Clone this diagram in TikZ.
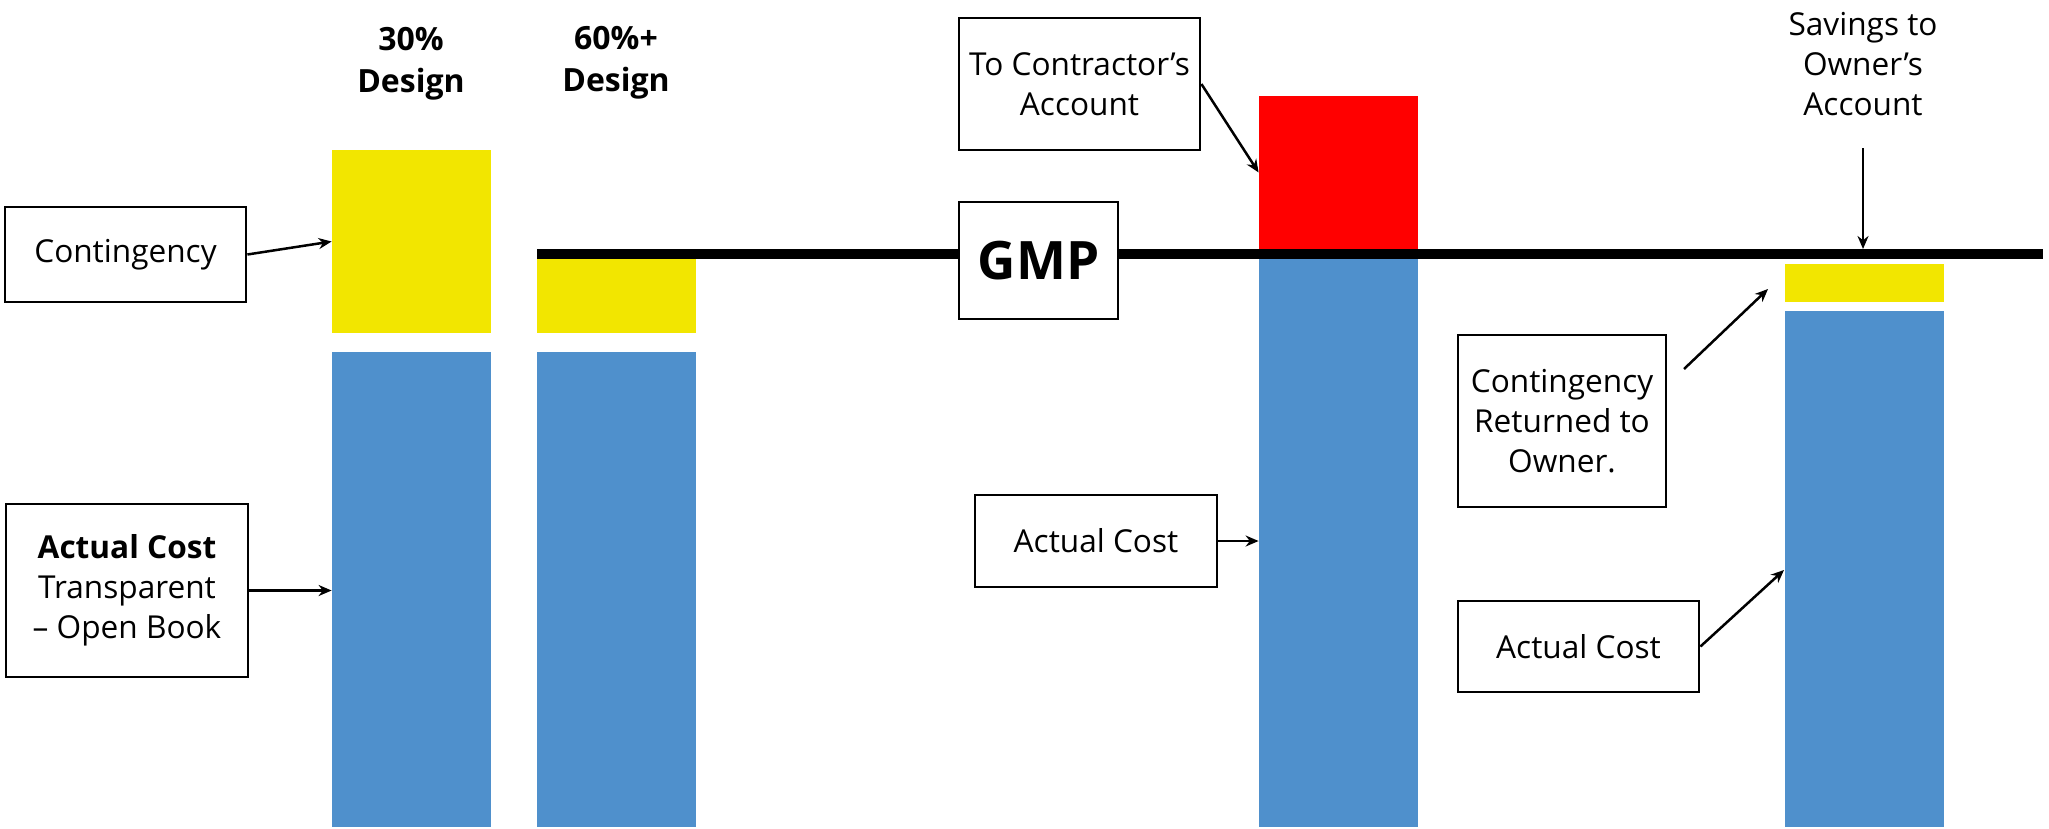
\documentclass[tikz,border=0pt]{standalone}
\usepackage{fontspec}
\setmainfont{Open Sans}
\usetikzlibrary{arrows.meta,calc}
\definecolor{barblue}{HTML}{4F90CC}
\definecolor{baryellow}{HTML}{F2E600}
\definecolor{barred}{HTML}{FF0000}
\begin{document}
\begin{tikzpicture}[x=0.5pt,y=-0.5pt,
  lbl/.style={draw,line width=1.4pt,fill=white,align=center,inner sep=0pt,font=\fontsize{15.8}{20}\selectfont},
  plain/.style={align=center,inner sep=0pt,font=\fontsize{15.8}{20}\selectfont},
  bar/.style={inner sep=0pt,draw=none,minimum width=79.5pt},
  conn/.style={line width=1.25pt,-{Stealth[length=6.5pt,width=5.5pt]}}]
\useasboundingbox (0,0) rectangle (2049,829);
% bars
\node[bar,fill=baryellow,minimum height=91.5pt] (y1) at (411.5,241.5) {};
\node[bar,fill=barblue,minimum height=237.5pt] (b1) at (411.5,589.5) {};
\node[bar,fill=baryellow,minimum height=37pt] (y2) at (616.5,296) {};
\node[bar,fill=barblue,minimum height=237.5pt] (b2) at (616.5,589.5) {};
\node[bar,fill=barred,minimum height=76.5pt] (r3) at (1338.5,172.5) {};
\node[bar,fill=barblue,minimum height=284pt] (b3) at (1338.5,543) {};
\node[bar,fill=baryellow,minimum height=19pt] (y4) at (1864.5,283) {};
\node[bar,fill=barblue,minimum height=258pt] (b4) at (1864.5,569) {};
% GMP line
\coordinate (gl) at (537,254);
\coordinate (gr) at (2043,254);
\draw[line width=5pt] (gl) -- (gr);
% headings
\node[plain,font=\fontsize{16}{21}\selectfont\bfseries] (h30) at (411,64) {30\%\\Design};
\node[plain,font=\fontsize{16}{21}\selectfont\bfseries] (h60) at (616,63) {60\%+\\Design};
% boxes
\node[lbl,minimum width=120.5pt,minimum height=47.5pt] (cont) at (125.5,254.5) {Contingency};
\node[lbl,minimum width=121pt,minimum height=86.5pt] (ac1) at (127,590.5) {\textbf{Actual Cost}\\Transparent\\– Open Book};
\node[lbl,minimum width=120.5pt,minimum height=66pt] (tca) at (1079.5,84) {To Contractor’s\\Account};
\node[lbl,minimum width=79.5pt,minimum height=58.5pt,font=\fontsize{26.5}{30}\selectfont\bfseries] (gmp) at (1038.5,260.5) {GMP};
\node[lbl,minimum width=121pt,minimum height=46pt] (ac2) at (1096,541) {Actual Cost};
\node[lbl,minimum width=104pt,minimum height=86pt] (cro) at (1562,421) {Contingency\\Returned to\\Owner.};
\node[lbl,minimum width=120.5pt,minimum height=45.5pt] (ac3) at (1578.5,646.5) {Actual Cost};
\node[plain] (sav) at (1863,64) {Savings to\\Owner’s\\Account};
% connectors
\coordinate (savs) at (1863,148);
\coordinate (savt) at (1863,249);
\coordinate (cros) at (1684,369);
\coordinate (crot) at (1768,289);
\coordinate (ac3t) at (1784,570);
\draw[conn] (cont.east) -- (y1.west);
\draw[conn] (ac1.east) -- (ac1.east -| b1.west);
\draw[conn] (tca.east) -- (r3.west);
\draw[conn] (ac2.east) -- (ac2.east -| b3.west);
\draw[conn] (savs) -- (savt);
\draw[conn] (cros) -- (crot);
\draw[conn] (ac3.east) -- (ac3t);
\end{tikzpicture}
\end{document}
